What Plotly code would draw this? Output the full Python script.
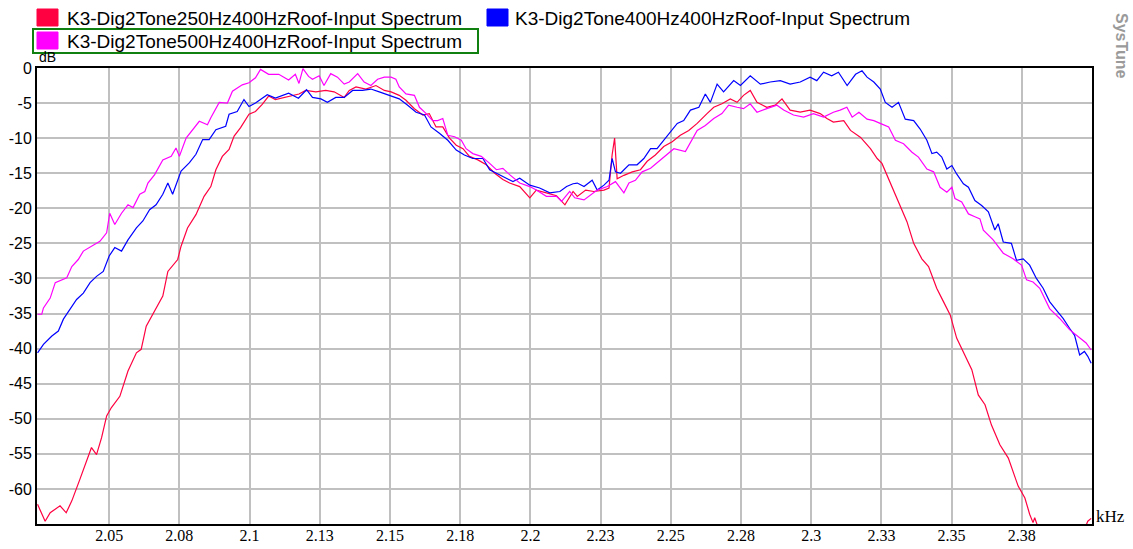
import plotly.graph_objects as go

# frequency (kHz) and level (dB)
f_250 = [2.0245, 2.0272, 2.0290, 2.0325, 2.0347, 2.0367, 2.0396, 2.0437, 2.0455, 2.0473,
         2.0491, 2.0508, 2.0538, 2.0567, 2.0597, 2.0614, 2.0632, 2.0667, 2.0691, 2.0709,
         2.0744, 2.0756, 2.0779, 2.0809, 2.0838, 2.0862, 2.0880, 2.0903, 2.0927, 2.0945,
         2.0968, 2.0998, 2.1021, 2.1045, 2.1068, 2.1092, 2.1139, 2.1176, 2.1200, 2.1236,
         2.1271, 2.1301, 2.1337, 2.1355, 2.1379, 2.1414, 2.1450, 2.1480, 2.1504, 2.1533,
         2.1557, 2.1587, 2.1617, 2.1640, 2.1664, 2.1688, 2.1712, 2.1736, 2.1760, 2.1783,
         2.1813, 2.1843, 2.1873, 2.1902, 2.1926, 2.1962, 2.1998, 2.2021, 2.2057, 2.2093,
         2.2123, 2.2152, 2.2167, 2.2197, 2.2226, 2.2262, 2.2280, 2.2291, 2.2300, 2.2309,
         2.2333, 2.2363, 2.2392, 2.2416, 2.2445, 2.2475, 2.2505, 2.2534, 2.2564, 2.2594,
         2.2629, 2.2653, 2.2682, 2.2712, 2.2736, 2.2759, 2.2783, 2.2807, 2.2842, 2.2872,
         2.2896, 2.2925, 2.2961, 2.2996, 2.3032, 2.3056, 2.3079, 2.3103, 2.3116, 2.3140,
         2.3176, 2.3211, 2.3235, 2.3252, 2.3270, 2.3300, 2.3317, 2.3341, 2.3365, 2.3394,
         2.3418, 2.3447, 2.3471, 2.3495, 2.3518, 2.3548, 2.3572, 2.3595, 2.3619, 2.3642,
         2.3672, 2.3702, 2.3719, 2.3737, 2.3761, 2.3778, 2.3790, 2.3796, 2.3808, 2.3830,
         2.3950, 2.3985, 2.3997]
db_250 = [-62.2, -64.6, -63.4, -62.4, -63.4, -61.7, -58.6, -54.1, -55.1, -52.7,
          -49.6, -48.4, -46.8, -43.2, -40.6, -40.1, -36.8, -34.2, -32.5, -29.0,
          -27.3, -25.4, -22.8, -20.9, -18.3, -16.9, -14.5, -12.6, -11.6, -9.7,
          -8.5, -6.6, -6.2, -5.2, -4.0, -4.5, -4.0, -3.7, -3.2, -3.4,
          -3.2, -3.4, -4.2, -3.2, -2.7, -3.0, -2.5, -3.2, -3.4, -3.9,
          -4.6, -5.8, -6.7, -6.5, -8.4, -8.4, -10.0, -11.0, -11.5, -12.6,
          -13.1, -13.8, -15.0, -15.9, -16.4, -16.9, -18.5, -17.4, -17.8, -18.2,
          -19.5, -17.6, -18.3, -17.4, -17.6, -17.4, -17.1, -12.4, -10.0, -15.8,
          -15.3, -14.8, -14.5, -13.3, -12.4, -11.2, -10.5, -9.6, -8.9, -7.9,
          -6.5, -5.6, -5.1, -4.4, -4.9, -3.9, -3.2, -4.9, -5.6, -5.3,
          -4.4, -6.0, -6.3, -6.0, -6.5, -7.2, -7.7, -7.5, -7.5, -8.9,
          -9.9, -11.5, -12.9, -13.6, -15.3, -17.9, -19.6, -21.9, -25.0, -27.2,
          -28.3, -31.4, -33.3, -35.2, -38.5, -40.9, -43.0, -46.6, -48.0, -50.9,
          -53.7, -55.6, -57.5, -59.6, -61.3, -63.6, -64.8, -64.1, -65.5, -68.0,
          -68.0, -64.6, -64.2]

f_400 = [2.0245, 2.0266, 2.0296, 2.0319, 2.0337, 2.0361, 2.0384, 2.0408, 2.0432, 2.0455,
         2.0479, 2.0500, 2.0520, 2.0544, 2.0567, 2.0597, 2.0620, 2.0644, 2.0667, 2.0691,
         2.0709, 2.0726, 2.0738, 2.0756, 2.0786, 2.0809, 2.0833, 2.0856, 2.0880, 2.0915,
         2.0927, 2.0956, 2.0980, 2.0998, 2.1021, 2.1063, 2.1092, 2.1139, 2.1174, 2.1203,
         2.1224, 2.1254, 2.1277, 2.1307, 2.1337, 2.1367, 2.1402, 2.1432, 2.1462, 2.1498,
         2.1533, 2.1563, 2.1593, 2.1623, 2.1646, 2.1676, 2.1706, 2.1736, 2.1765, 2.1795,
         2.1831, 2.1855, 2.1879, 2.1908, 2.1938, 2.1962, 2.1998, 2.2033, 2.2069, 2.2105,
         2.2129, 2.2152, 2.2167, 2.2191, 2.2220, 2.2238, 2.2262, 2.2280, 2.2291, 2.2303,
         2.2321, 2.2351, 2.2380, 2.2404, 2.2428, 2.2451, 2.2475, 2.2499, 2.2523, 2.2546,
         2.2570, 2.2600, 2.2623, 2.2641, 2.2665, 2.2688, 2.2724, 2.2748, 2.2783, 2.2819,
         2.2854, 2.2890, 2.2925, 2.2961, 2.2996, 2.3020, 2.3044, 2.3073, 2.3097, 2.3128,
         2.3158, 2.3181, 2.3199, 2.3223, 2.3246, 2.3264, 2.3288, 2.3311, 2.3335, 2.3365,
         2.3388, 2.3412, 2.3430, 2.3447, 2.3465, 2.3483, 2.3501, 2.3518, 2.3542, 2.3560,
         2.3583, 2.3607, 2.3631, 2.3654, 2.3666, 2.3684, 2.3713, 2.3731, 2.3755, 2.3778,
         2.3802, 2.3826, 2.3849, 2.3873, 2.3897, 2.3920, 2.3938, 2.3956, 2.3973, 2.3985,
         2.3997]
db_400 = [-40.6, -39.4, -38.2, -37.5, -35.8, -34.4, -33.0, -32.1, -30.6, -29.7,
          -29.0, -26.8, -25.6, -26.1, -24.5, -22.8, -21.8, -20.2, -19.5, -18.0,
          -16.4, -18.0, -16.6, -14.7, -13.5, -12.3, -10.2, -10.2, -8.8, -8.3,
          -6.6, -6.2, -4.5, -5.5, -5.0, -3.8, -4.3, -3.6, -4.3, -3.1,
          -4.2, -4.4, -4.9, -4.2, -4.2, -3.2, -3.2, -3.0, -3.4, -3.9,
          -4.4, -5.3, -6.3, -6.7, -8.4, -9.3, -10.3, -11.7, -12.4, -12.9,
          -12.9, -14.5, -15.0, -15.5, -16.2, -15.7, -16.7, -17.1, -17.8, -17.6,
          -16.9, -16.5, -16.4, -16.9, -16.0, -17.4, -16.7, -16.0, -12.9, -14.8,
          -15.0, -13.8, -13.8, -12.9, -11.5, -11.5, -10.3, -9.1, -7.9, -7.5,
          -6.0, -5.6, -3.7, -4.9, -2.3, -3.4, -1.8, -2.5, -1.1, -2.3,
          -2.0, -1.8, -2.3, -2.0, -1.3, -1.8, -0.6, -1.1, -0.6, -2.5,
          -0.9, -0.4, -1.3, -2.0, -3.0, -4.9, -5.6, -4.9, -7.3, -7.5,
          -8.7, -10.3, -12.2, -12.0, -12.7, -14.4, -13.9, -15.1, -16.5, -17.0,
          -18.9, -19.6, -20.5, -23.1, -22.2, -24.8, -25.0, -27.4, -27.2, -28.1,
          -30.0, -31.4, -33.3, -34.5, -35.7, -37.1, -38.1, -40.9, -40.4, -41.1,
          -42.1]

f_500 = [2.0245, 2.0260, 2.0266, 2.0290, 2.0308, 2.0337, 2.0349, 2.0367, 2.0390, 2.0408,
         2.0437, 2.0467, 2.0491, 2.0502, 2.0520, 2.0544, 2.0567, 2.0585, 2.0609, 2.0627,
         2.0638, 2.0662, 2.0691, 2.0721, 2.0738, 2.0750, 2.0774, 2.0797, 2.0821, 2.0850,
         2.0862, 2.0892, 2.0921, 2.0939, 2.0974, 2.0998, 2.1021, 2.1039, 2.1068, 2.1104,
         2.1139, 2.1163, 2.1176, 2.1190, 2.1210, 2.1224, 2.1248, 2.1265, 2.1289, 2.1313,
         2.1337, 2.1355, 2.1385, 2.1408, 2.1432, 2.1456, 2.1480, 2.1504, 2.1521, 2.1533,
         2.1557, 2.1587, 2.1605, 2.1629, 2.1652, 2.1670, 2.1688, 2.1706, 2.1730, 2.1754,
         2.1771, 2.1795, 2.1825, 2.1855, 2.1879, 2.1902, 2.1926, 2.1962, 2.1998, 2.2021,
         2.2057, 2.2093, 2.2111, 2.2140, 2.2158, 2.2191, 2.2238, 2.2274, 2.2303, 2.2333,
         2.2351, 2.2374, 2.2398, 2.2428, 2.2457, 2.2481, 2.2511, 2.2552, 2.2576, 2.2594,
         2.2623, 2.2653, 2.2682, 2.2706, 2.2736, 2.2759, 2.2783, 2.2807, 2.2842, 2.2878,
         2.2902, 2.2937, 2.2973, 2.3008, 2.3044, 2.3079, 2.3103, 2.3127, 2.3146, 2.3170,
         2.3199, 2.3223, 2.3252, 2.3276, 2.3300, 2.3329, 2.3359, 2.3382, 2.3412, 2.3436,
         2.3459, 2.3483, 2.3501, 2.3512, 2.3536, 2.3560, 2.3583, 2.3601, 2.3613, 2.3648,
         2.3684, 2.3719, 2.3749, 2.3767, 2.3790, 2.3814, 2.3849, 2.3885, 2.3920, 2.3944,
         2.3979, 2.3997]
db_500 = [-35.1, -35.1, -34.2, -32.8, -30.6, -30.1, -29.9, -28.3, -27.3, -26.1,
          -25.4, -24.7, -23.5, -20.7, -22.3, -20.7, -19.5, -19.9, -18.0, -17.6,
          -16.4, -15.2, -13.1, -12.6, -11.4, -12.6, -10.0, -8.8, -7.6, -8.1,
          -7.1, -4.9, -5.0, -3.3, -2.4, -2.1, -1.4, -0.2, -0.9, -0.9,
          -1.7, -0.9, -2.2, -0.1, -1.2, -1.6, -1.1, -2.5, -0.8, -1.3,
          -2.3, -2.0, -0.8, -2.0, -2.5, -1.6, -1.3, -1.3, -1.6, -2.7,
          -3.7, -3.9, -5.6, -6.5, -7.5, -7.5, -7.2, -9.6, -9.8, -10.3,
          -11.5, -12.2, -12.6, -13.6, -14.5, -14.3, -15.2, -16.4, -16.9, -17.4,
          -18.3, -18.3, -19.0, -17.6, -18.5, -18.8, -17.4, -16.9, -16.2, -17.8,
          -16.4, -16.0, -14.8, -14.3, -13.3, -12.4, -11.5, -11.9, -10.3, -8.9,
          -8.2, -7.2, -6.5, -5.3, -5.6, -5.8, -5.1, -6.3, -5.8, -5.3,
          -6.0, -6.7, -7.0, -6.5, -7.0, -6.3, -6.0, -5.6, -7.0, -6.3,
          -7.3, -7.5, -8.0, -8.4, -10.3, -10.8, -12.0, -12.7, -14.4, -14.8,
          -17.0, -17.7, -17.0, -18.6, -19.1, -20.8, -21.2, -21.5, -23.1, -24.5,
          -26.4, -27.2, -28.1, -30.2, -30.5, -31.4, -34.3, -35.7, -37.3, -38.1,
          -39.2, -40.2]

series_names = ["K3-Dig2Tone250Hz400HzRoof-Input Spectrum",
                "K3-Dig2Tone400Hz400HzRoof-Input Spectrum",
                "K3-Dig2Tone500Hz400HzRoof-Input Spectrum"]
series_colors = ["#FF0040", "#0000FF", "#FF00FF"]

x_ticks = [2.05, 2.075, 2.1, 2.125, 2.15, 2.175, 2.2, 2.225, 2.25, 2.275, 2.3, 2.325, 2.35, 2.375]
x_labels = ["2.05", "2.08", "2.1", "2.13", "2.15", "2.18", "2.2", "2.23", "2.25", "2.28",
            "2.3", "2.33", "2.35", "2.38"]
y_ticks = [0, -5, -10, -15, -20, -25, -30, -35, -40, -45, -50, -55, -60]
y_labels = ["0", "-5", "-10", "-15", "-20", "-25", "-30", "-35", "-40", "-45", "-50", "-55", "-60"]

W, H = 1133, 549
L, R, T, B = 37, 1092, 68, 524


def px(x):
    return (x - L) / (R - L)


def py(y):
    return (B - y) / (B - T)


fig = go.Figure()
for fx, dy, name, col in zip([f_250, f_400, f_500], [db_250, db_400, db_500],
                             series_names, series_colors):
    fig.add_trace(go.Scatter(x=fx, y=dy, mode="lines", name=name,
                             line=dict(color=col, width=1.2), showlegend=False))

# hand-drawn legend like the original app
shapes = []
annotations = []
legend_pos = [(37, 18, 65), (487, 18, 513), (37, 41, 65)]
for (sx, sy, tx), name, col in zip(legend_pos, series_names, series_colors):
    shapes.append(dict(type="rect", xref="paper", yref="paper",
                       x0=px(sx), x1=px(sx + 21), y0=py(sy - 9), y1=py(sy + 8),
                       fillcolor=col, line=dict(color=col, width=1)))
    annotations.append(dict(text=name, xref="paper", yref="paper", x=px(tx), y=py(sy),
                            xanchor="left", yanchor="middle", showarrow=False,
                            font=dict(family="Liberation Sans, Arial", size=19, color="#000")))
shapes.append(dict(type="rect", xref="paper", yref="paper",
                   x0=px(33), x1=px(478), y0=py(29), y1=py(53),
                   line=dict(color="#108010", width=2), fillcolor="rgba(0,0,0,0)"))

annotations += [
    dict(text="dB", xref="paper", yref="paper", x=px(37), y=py(67), xanchor="left",
         yanchor="bottom", showarrow=False,
         font=dict(family="Liberation Sans, Arial", size=14, color="#000")),
    dict(text="kHz", xref="paper", yref="paper", x=px(1094), y=py(516), xanchor="left",
         yanchor="middle", showarrow=False,
         font=dict(family="Liberation Serif, Times New Roman", size=17, color="#000")),
    dict(text="<b>SysTune</b>", xref="paper", yref="paper", x=px(1121), y=py(46),
         xanchor="center", yanchor="middle", textangle=90, showarrow=False,
         font=dict(family="Liberation Sans, Arial", size=16, color="#9a9a9a")),
]

fig.update_layout(
    width=W, height=H,
    margin=dict(l=L, r=W - R, t=T, b=H - B),
    paper_bgcolor="white", plot_bgcolor="white",
    shapes=shapes, annotations=annotations,
    xaxis=dict(range=[2.0243, 2.4], tickvals=x_ticks, ticktext=x_labels, automargin=False,
               showgrid=True, gridcolor="#c0c0c0", gridwidth=2, zeroline=False,
               showline=True, linecolor="#000", linewidth=2, mirror=True,
               ticks="", ticklabelstandoff=-4,
               tickfont=dict(family="Liberation Serif, Times New Roman", size=16, color="#000")),
    yaxis=dict(range=[-65, 0], tickvals=y_ticks, ticktext=y_labels, automargin=False,
               showgrid=True, gridcolor="#c0c0c0", gridwidth=2, zeroline=False,
               showline=True, linecolor="#000", linewidth=2, mirror=True,
               ticks="", tickfont=dict(family="Liberation Sans, Arial", size=16, color="#000")),
)

# the page body has a default margin; drop it so the figure sits at the window corner
fig.write_html("out.html", config={"displayModeBar": False},
               post_script="document.body.style.margin='0';")
